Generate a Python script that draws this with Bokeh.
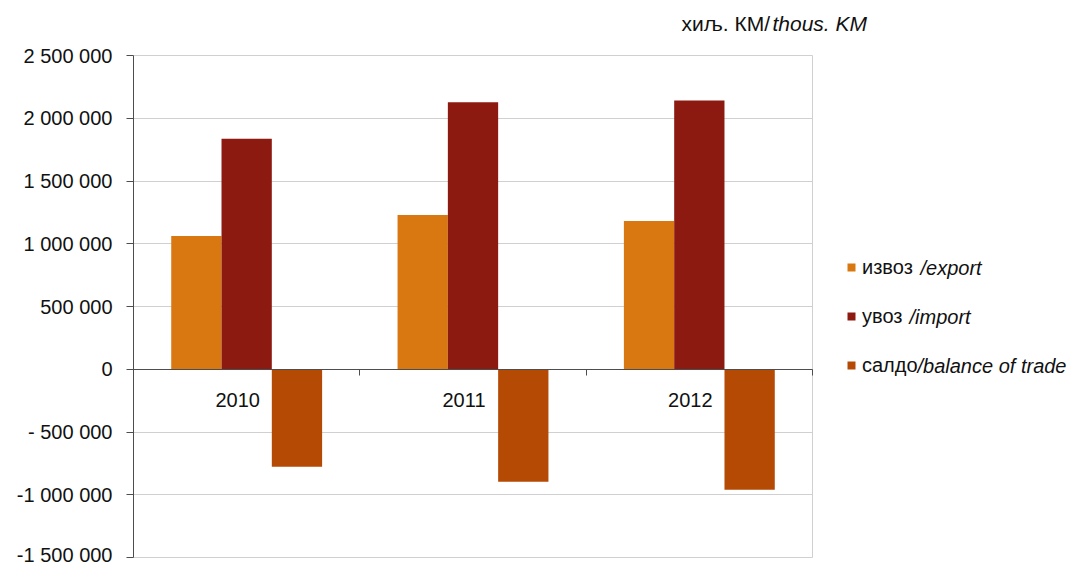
from bokeh.plotting import figure
from bokeh.models import (Range1d, FixedTicker, LinearAxis, Legend, LegendItem,
                          Label, ColumnDataSource, Grid)
from bokeh.transform import dodge
from bokeh.core.properties import value
from bokeh.embed import file_html
from bokeh.resources import INLINE

# ---- data ----
years = ["2010", "2011", "2012"]
export_vals = [1061000, 1230000, 1181000]
import_vals = [1837000, 2127000, 2141000]
balance_vals = [-776000, -897000, -960000]

y_ticks = [-1500000, -1000000, -500000, 0, 500000, 1000000, 1500000, 2000000, 2500000]
y_tick_labels = ["-1 500 000", "-1 000 000", "- 500 000", "0", "500 000",
                 "1 000 000", "1 500 000", "2 000 000", "2 500 000"]

series_cyr = ["извоз", "увоз", "салдо"]
series_en = ["/export", "/import", "/balance of trade"]
unit_cyr = "хиљ. КМ/"
unit_en = "thous. KM"
colors = ["#D97811", "#8C1A10", "#B54A05"]

# ---- layout (pixels) ----
W, H = 1085, 565
plot_left, plot_right, plot_top, plot_bottom = 133, 812, 55, 557
frame_bottom = 559
y_lo, y_hi = y_ticks[0], y_ticks[-1]
n = len(years)
px_per_x = (plot_right - plot_left) / n
val_per_px = (y_hi - y_lo) / (plot_bottom - plot_top)
x_end = (W - plot_left) / px_per_x
y_end = y_hi + plot_top * val_per_px
y_start = y_lo - (frame_bottom - plot_bottom) * val_per_px
FONT = "Liberation Sans"
TXT = "#111111"

pos = [i + 0.5 for i in range(n)]
src = ColumnDataSource(dict(x=pos, year=years, export=export_vals,
                            imp=import_vals, bal=balance_vals))

p = figure(width=W, height=H, title=None,
           x_range=Range1d(0, x_end), y_range=Range1d(y_start, y_end),
           output_backend="svg", toolbar_location=None, x_axis_location=None,
           min_border_left=plot_left, min_border_right=0,
           min_border_top=0, min_border_bottom=H - frame_bottom)
p.background_fill_color = "white"
p.border_fill_color = "white"
p.outline_line_color = None

grid_color = "#D0D0D0"
if "cross_bounds" in Grid.properties():
    p.ygrid.ticker = FixedTicker(ticks=y_ticks)
    p.ygrid.cross_bounds = (0, n)
    p.ygrid.grid_line_color = grid_color
    p.xgrid.ticker = FixedTicker(ticks=[n])
    p.xgrid.cross_bounds = (y_lo, y_hi)
    p.xgrid.grid_line_color = grid_color
else:
    p.ygrid.visible = False
    p.xgrid.visible = False
    p.segment(x0=0, x1=n, y0=y_ticks, y1=y_ticks, line_color=grid_color, line_width=1)
    p.segment(x0=[n], x1=[n], y0=[y_lo], y1=[y_hi], line_color=grid_color, line_width=1)

ya = p.yaxis[0]
ya.ticker = FixedTicker(ticks=y_ticks)
ya.bounds = (y_lo, y_hi)
ya.major_label_overrides = dict(zip(y_ticks, y_tick_labels))
ya.minor_tick_line_color = None
ya.major_tick_in = 0
ya.major_tick_out = 7
ya.major_tick_line_color = "#4D4D4D"
ya.axis_line_color = "#4D4D4D"
ya.major_label_standoff = 14
ya.major_label_text_font = FONT
ya.major_label_text_font_size = "20px"
ya.major_label_text_color = TXT

# category axis drawn at zero
xa = LinearAxis(fixed_location=0, ticker=FixedTicker(ticks=list(range(n + 1))),
                bounds=(0, n), major_tick_in=0, major_tick_out=6,
                minor_tick_line_color=None, major_label_text_font_size="0px",
                major_label_standoff=0, major_label_text_color=None,
                axis_line_color="#4D4D4D", major_tick_line_color="#4D4D4D")
p.add_layout(xa, "below")

w = 1 / 4.5
r_exp = p.vbar(x=dodge("x", -w), top="export", bottom=0, width=w, source=src,
               fill_color=colors[0], line_color=None)
r_imp = p.vbar(x=dodge("x", 0), top="imp", bottom=0, width=w, source=src,
               fill_color=colors[1], line_color=None)
r_bal = p.vbar(x=dodge("x", w), top=0, bottom="bal", width=w, source=src,
               fill_color=colors[2], line_color=None)

p.text(x="x", y=0, text="year", source=src, x_offset=-9, y_offset=31,
       text_align="center", text_baseline="middle",
       text_font=value(FONT), text_font_size="20px", text_color=TXT)

legend = Legend(items=[LegendItem(label=series_cyr[i], renderers=[r])
                       for i, r in enumerate([r_exp, r_imp, r_bal])],
                location=(846 - plot_left, 180 + (frame_bottom - plot_bottom)),
                orientation="vertical",
                border_line_color=None, background_fill_alpha=0,
                glyph_width=10, glyph_height=10, label_standoff=6,
                label_height=24, spacing=25, padding=0, margin=0,
                label_text_font=FONT, label_text_font_size="20px",
                label_text_color=TXT)
p.add_layout(legend)

ital_px = [(920, 267), (909, 316), (917, 365)]
for i, (lx, ly) in enumerate(ital_px):
    p.add_layout(Label(x=lx - plot_left, y=frame_bottom - ly, x_units="screen", y_units="screen",
                       text=series_en[i], text_font=FONT, text_font_size="20px",
                       text_font_style="italic", text_baseline="middle",
                       text_color=TXT))

p.add_layout(Label(x=681 - plot_left, y=frame_bottom - 23, x_units="screen", y_units="screen",
                   text=unit_cyr, text_font=FONT, text_font_size="21px",
                   text_baseline="middle", text_color=TXT))
p.add_layout(Label(x=772 - plot_left, y=frame_bottom - 23, x_units="screen", y_units="screen",
                   text=unit_en, text_font=FONT, text_font_size="21px",
                   text_font_style="italic", text_baseline="middle", text_color=TXT))

open("out.html", "w").write(file_html(p, INLINE))
